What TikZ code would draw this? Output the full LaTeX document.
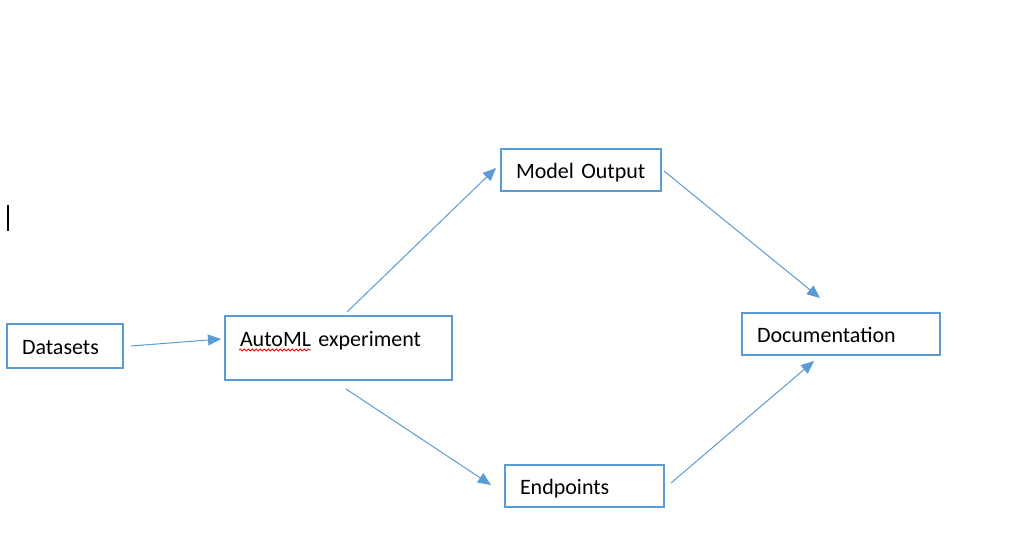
\documentclass[tikz,border=0pt]{standalone}
\usepackage{fontspec}
\setmainfont{Carlito}
\usetikzlibrary{arrows.meta,calc,decorations.pathmorphing}
\definecolor{boxblue}{HTML}{5B9BD5}
\begin{document}
\begin{tikzpicture}[x=1pt,y=-1pt,
  box/.style={draw=boxblue, line width=2pt, rectangle, inner xsep=15pt, inner ysep=0pt,
     align=left, font=\fontsize{22}{26}\selectfont, text height=19pt, text depth=2pt},
  conn/.style={draw=boxblue, line width=1pt, -{Triangle[length=13pt,width=11pt]}}]
\useasboundingbox[fill=white] (0,0) rectangle (1032,553);
\node[box, text width=86pt, minimum height=44pt] (ds) at (65,346) {Datasets};
\node[box, text width=197pt, minimum height=64pt, text height=30pt, text depth=34pt] (aml) at (338.5,348) {AutoML experiment};
\node[box, text width=130pt, minimum height=42pt] (mo) at (581,170) {Model Output};
\node[box, text width=168pt, minimum height=42pt] (doc) at (841,334) {Documentation};
\node[box, text width=129pt, minimum height=42pt] (ep) at (584.5,486) {Endpoints};
\coordinate (a1s) at ($(ds.east)+(7,0)$);
\coordinate (a1e) at ($(aml.west)+(-3,-9)$);
\coordinate (a2s) at ($(aml.north)+(8.5,-3)$);
\coordinate (a2e) at ($(mo.west)+(-4,-2)$);
\coordinate (a3s) at ($(aml.south)+(7.5,8)$);
\coordinate (a3e) at ($(ep.west)+(-13,-1)$);
\coordinate (a4s) at ($(mo.east)+(2,1)$);
\coordinate (a4e) at ($(doc.north)+(-21,-14)$);
\coordinate (a5s) at ($(ep.east)+(6,-3)$);
\coordinate (a5e) at ($(doc.south)+(-27,5)$);
\draw[conn] (a1s) -- (a1e);
\draw[conn] (a2s) -- (a2e);
\draw[conn] (a3s) -- (a3e);
\draw[conn] (a4s) -- (a4e);
\draw[conn] (a5s) -- (a5e);
\draw[red, line width=0.8pt, decorate, decoration={snake, amplitude=1pt, segment length=4pt}]
  ($(aml.west)+(15,2)$) -- ($(aml.west)+(87,2)$);
\draw[black, line width=1.2pt] (8,205) -- (8,231);
\end{tikzpicture}
\end{document}
